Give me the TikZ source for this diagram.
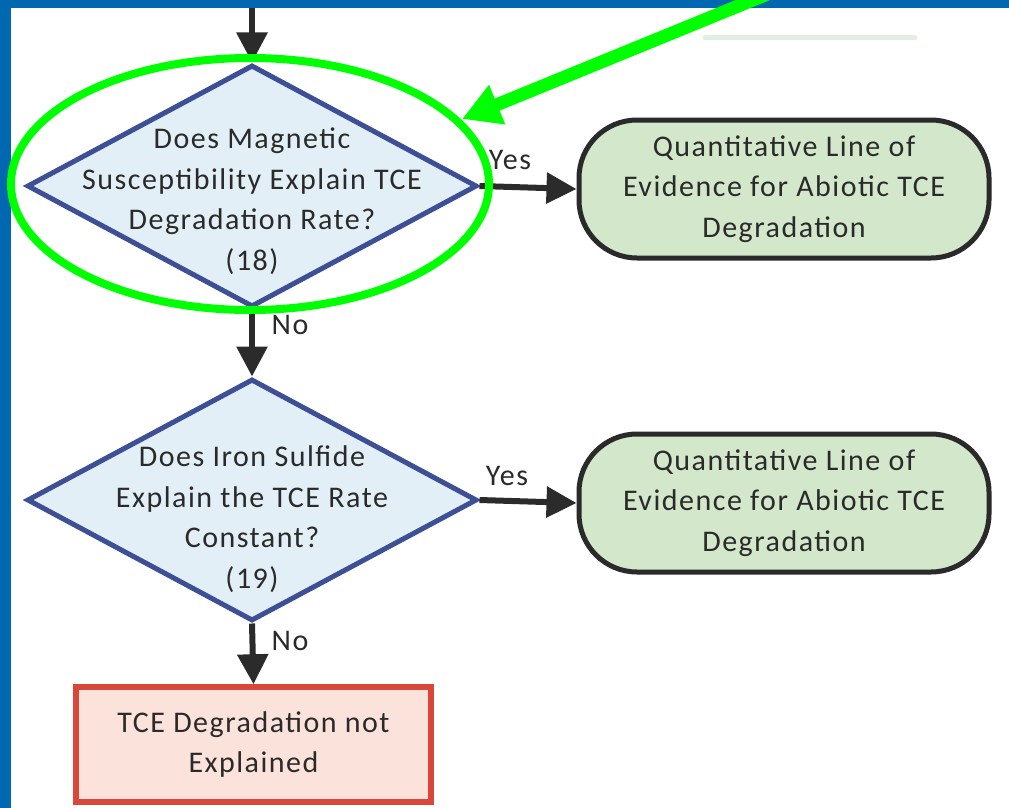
\documentclass[tikz,border=0pt]{standalone}
\usepackage{fontspec}
\setmainfont{Carlito}
\usetikzlibrary{shapes.geometric,arrows.meta}
\definecolor{band}{HTML}{0067B1}
\definecolor{txtc}{HTML}{2A2A2A}
\definecolor{diafill}{HTML}{E3EFF6}
\definecolor{diadraw}{HTML}{3D4F95}
\definecolor{outfill}{HTML}{D3E7CB}
\definecolor{outdraw}{HTML}{2A2A2A}
\definecolor{endfill}{HTML}{FBE3DB}
\definecolor{enddraw}{HTML}{D8473A}
\definecolor{arrc}{HTML}{2B2B2B}
\definecolor{hl}{HTML}{00FF00}
\tikzset{
  txt/.style={align=center, text=txtc, inner sep=0pt,
    font=\fontsize{30}{40.5}\selectfont\addfontfeatures{LetterSpace=5}},
  dia/.style={diamond, draw=diadraw, fill=diafill, line width=5pt,
    minimum width=450pt, minimum height=242pt, inner sep=0pt},
  outbox/.style={txt, draw=outdraw, fill=outfill, line width=5pt,
    rounded corners=58pt, minimum width=410pt, minimum height=138pt},
  endbox/.style={txt, draw=enddraw, fill=endfill, line width=5.5pt,
    minimum width=355pt, minimum height=115pt},
  arr/.style={draw=arrc, line width=6pt,
    -{Triangle[length=30pt,width=30pt]}},
  lab/.style={txt},
  hlarrow/.style={draw=hl, line width=13pt, -{Triangle[length=38pt,width=40pt]}},
}
\begin{document}
\begin{tikzpicture}[x=1pt,y=-1pt]
\useasboundingbox (0,0) rectangle (1009,808);
\fill[white] (0,0) rectangle (1009,808);
\fill[band] (0,0) rectangle (1009,8);
\fill[band] (0,0) rectangle (11,808);
% faint artifact
\draw[line width=5pt, color=green!30!gray!18, line cap=round] (705,38) -- (915,38);

\coordinate (top) at (252,8);
\node[dia] (d1) at (252,186) {};
\node[txt] (t1) at (252,201) {Does Magnetic\\Susceptibility Explain TCE\\Degradation Rate?\\(18)};
\node[outbox] (o1) at (784,189) {Quantitative Line of\\Evidence for Abiotic TCE\\Degradation};

\node[dia] (d2) at (252,500) {};
\node[txt] (t2) at (252,519) {Does Iron Sulfide\\Explain the TCE Rate\\Constant?\\(19)};
\node[outbox] (o2) at (784,503) {Quantitative Line of\\Evidence for Abiotic TCE\\Degradation};

\node[endbox] (e) at (253.5,744.5) {TCE Degradation not\\Explained};

\draw[arr] (top) -- (d1.north);
\draw[arr] (d1.east) -- (o1.west);
\draw[arr] (d1.south) -- (d2.north);
\draw[arr] (d2.east) -- (o2.west);
\draw[arr] (d2.south) -- (e.north);

\node[lab] (y1) at (510,160) {Yes};
\node[lab] (y2) at (507,476) {Yes};
\node[lab] (n1) at (290,325) {No};
\node[lab] (n2) at (290,641) {No};

% highlight
\draw[draw=hl, line width=8pt] (250,184) ellipse [x radius=239, y radius=126];
\coordinate (hs) at (770,-7);
\coordinate (he) at (462,119);
\draw[hlarrow] (hs) -- (he);
\end{tikzpicture}
\end{document}
